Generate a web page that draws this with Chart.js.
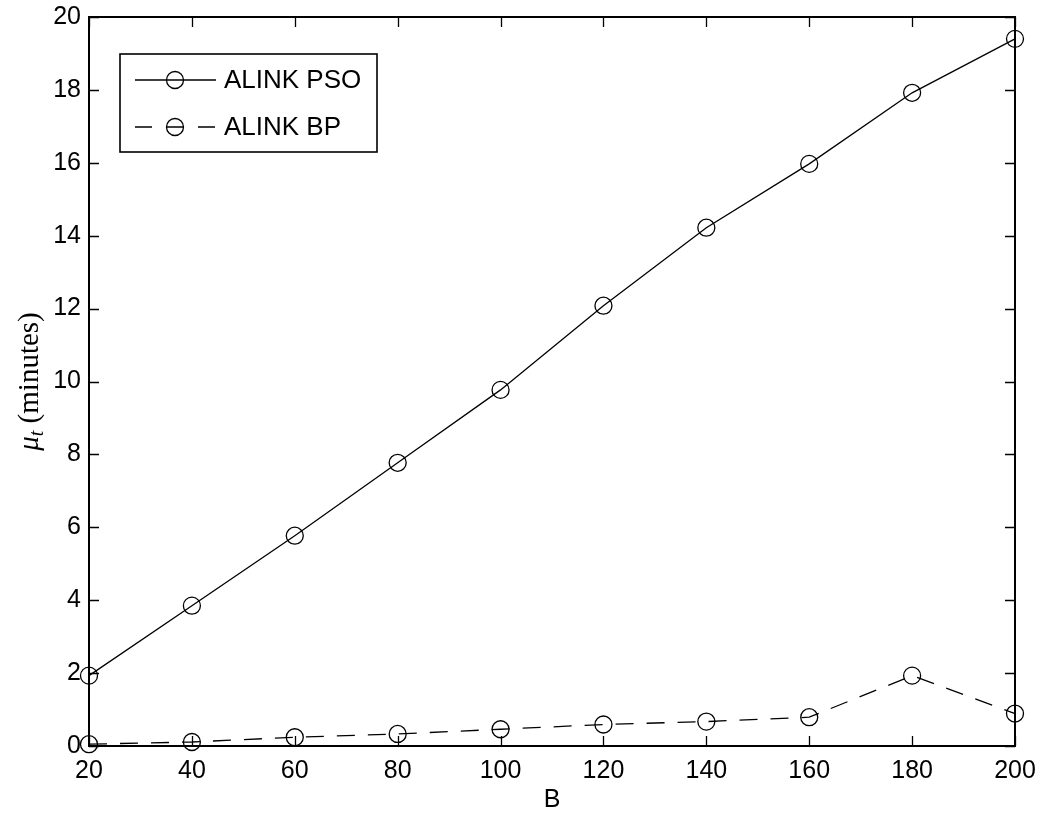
<!DOCTYPE html>
<html>
<head>
<meta charset="utf-8">
<script src="https://cdn.jsdelivr.net/npm/chart.js@4"></script>
<style>
  html, body { margin: 0; padding: 0; background: #fff; }
  #wrap { width: 1041px; height: 815px; }
</style>
</head>
<body>
<div id="wrap"><canvas id="chart" width="1041" height="815"></canvas></div>
<script>
/* mu_t vs B — ALINK PSO vs ALINK BP */

const categories = [20, 40, 60, 80, 100, 120, 140, 160, 180, 200];
const psoValues = [1.93, 3.85, 5.77, 7.77, 9.77, 12.08, 14.22, 15.97, 17.92, 19.4];
const bpValues = [0.05, 0.11, 0.24, 0.33, 0.46, 0.59, 0.67, 0.79, 1.93, 0.89];
const seriesLabels = ["ALINK PSO", "ALINK BP"];
const yTicks = [0, 2, 4, 6, 8, 10, 12, 14, 16, 18, 20];
const xTitle = "B";

const FONT = "'Liberation Sans', Arial, sans-serif";
const SERIF = "'Liberation Serif', 'Times New Roman', serif";
const DASH = [18, 13];

const toPoints = (vals) => categories.map((x, i) => ({ x, y: vals[i] }));

// drop the label overhang padding so the plot box sits where layout.padding says
const noPad = (s) => { s.paddingLeft = s.paddingRight = s.paddingTop = s.paddingBottom = 0; };

// inner tick marks on all four sides + frame
const frame = {
  id: "frame",
  afterDraw(c) {
    const { ctx, chartArea: a, scales } = c;
    const len = 10;
    ctx.save();
    ctx.strokeStyle = "#000";
    ctx.lineWidth = 1.3;
    ctx.beginPath();
    categories.forEach((v) => {
      const px = Math.round(scales.x.getPixelForValue(v)) + 0.5;
      ctx.moveTo(px, a.bottom); ctx.lineTo(px, a.bottom - len);
      ctx.moveTo(px, a.top); ctx.lineTo(px, a.top + len);
    });
    yTicks.forEach((v) => {
      const py = Math.round(scales.y.getPixelForValue(v)) + 0.5;
      ctx.moveTo(a.left, py); ctx.lineTo(a.left + len, py);
      ctx.moveTo(a.right, py); ctx.lineTo(a.right - len, py);
    });
    ctx.stroke();
    ctx.lineWidth = 2;
    ctx.strokeRect(a.left, a.top, a.right - a.left, a.bottom - a.top);
    ctx.restore();
  },
};

// legend box inside the plot, top-left
const legendBox = {
  id: "legendBox",
  afterDraw(c) {
    const { ctx } = c;
    const x0 = 120, y0 = 54, w = 257, h = 98;
    ctx.save();
    ctx.fillStyle = "#fff";
    ctx.fillRect(x0, y0, w, h);
    ctx.strokeStyle = "#000";
    ctx.lineWidth = 1.6;
    ctx.strokeRect(x0, y0, w, h);
    c.data.datasets.forEach((ds, i) => {
      const y = y0 + 26 + i * 47;
      ctx.lineWidth = 1.3;
      ctx.setLineDash(ds.borderDash ? [17, 15, 16, 15] : []);
      ctx.beginPath();
      ctx.moveTo(x0 + 15, y); ctx.lineTo(x0 + 96, y);
      ctx.stroke();
      ctx.setLineDash([]);
      ctx.beginPath();
      ctx.arc(x0 + 55, y, 8.5, 0, Math.PI * 2);
      ctx.stroke();
      ctx.fillStyle = "#000";
      ctx.font = "26px " + FONT;
      ctx.textBaseline = "middle";
      ctx.fillText(ds.label, x0 + 104, y + 1);
    });
    ctx.restore();
  },
};

// y title: italic mu with subscript t, then (minutes)
const yTitle = {
  id: "yTitle",
  afterDraw(c) {
    const { ctx, chartArea: a } = c;
    ctx.save();
    ctx.translate(38, (a.top + a.bottom) / 2);
    ctx.rotate(-Math.PI / 2);
    ctx.fillStyle = "#000";
    ctx.textBaseline = "alphabetic";
    const mu = "italic 29px " + SERIF;
    const sub = "italic 20px " + SERIF;
    const rest = "29px " + SERIF;
    ctx.font = mu; const w1 = ctx.measureText("\u03bc").width;
    ctx.font = sub; const w2 = ctx.measureText("t").width;
    ctx.font = rest; const w3 = ctx.measureText(" (minutes)").width;
    let x = -(w1 + w2 + w3) / 2;
    ctx.font = mu; ctx.fillText("\u03bc", x, 0); x += w1;
    ctx.font = sub; ctx.fillText("t", x, 5); x += w2;
    ctx.font = rest; ctx.fillText(" (minutes)", x, 0);
    ctx.restore();
  },
};

new Chart(document.getElementById("chart"), {
  type: "line",
  data: {
    datasets: [
      {
        label: seriesLabels[0],
        data: toPoints(psoValues),
        borderColor: "#000",
        borderWidth: 1.3,
        pointRadius: 8.5,
        pointBorderWidth: 1.3,
        pointBackgroundColor: "rgba(0,0,0,0)",
        pointBorderColor: "#000",
        tension: 0,
        clip: false,
      },
      {
        label: seriesLabels[1],
        data: toPoints(bpValues),
        borderColor: "#000",
        borderWidth: 1.3,
        borderDash: DASH,
        pointRadius: 8.5,
        pointBorderWidth: 1.3,
        pointBackgroundColor: "rgba(0,0,0,0)",
        pointBorderColor: "#000",
        tension: 0,
        clip: false,
      },
    ],
  },
  options: {
    responsive: false,
    animation: false,
    events: [],
    layout: { padding: { top: 17, right: 26, left: 0, bottom: 0 } },
    plugins: { legend: { display: false }, tooltip: { enabled: false } },
    scales: {
      x: {
        type: "linear",
        min: 20,
        max: 200,
        afterBuildTicks: (s) => { s.ticks = categories.map((v) => ({ value: v })); },
        ticks: { color: "#000", font: { family: FONT, size: 25 }, padding: 10, maxRotation: 0 },
        grid: { display: false, drawTicks: false },
        border: { display: false },
        title: { display: true, text: xTitle, color: "#000", font: { family: FONT, size: 25 }, padding: { top: 2, bottom: 0 } },
        afterFit: (s) => { s.height = 69; noPad(s); },
      },
      y: {
        min: 0,
        max: 20,
        afterBuildTicks: (s) => { s.ticks = yTicks.map((v) => ({ value: v })); },
        ticks: { color: "#000", font: { family: FONT, size: 25 }, padding: 8 },
        grid: { display: false, drawTicks: false },
        border: { display: false },
        afterFit: (s) => { s.width = 89; noPad(s); },
      },
    },
  },
  plugins: [frame, legendBox, yTitle],
});
</script>
</body>
</html>
